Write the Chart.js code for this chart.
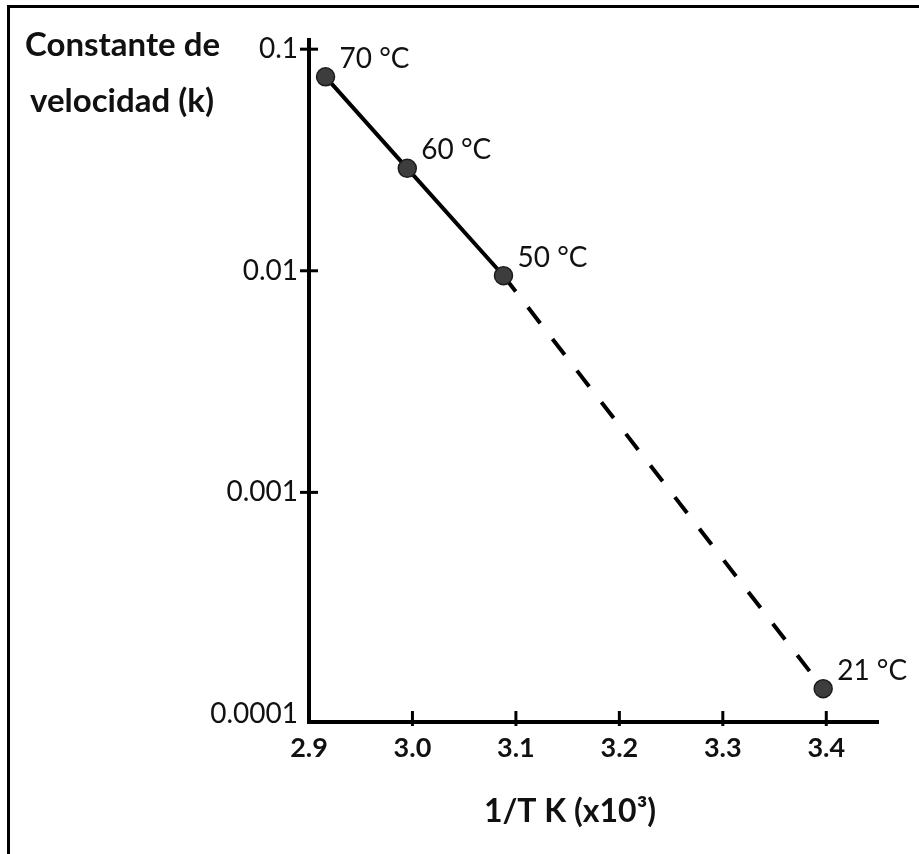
<!DOCTYPE html>
<html>
<head>
<meta charset="utf-8">
<script src="https://cdn.jsdelivr.net/npm/chart.js@4"></script>
<style>
  html, body { margin: 0; padding: 0; background: #fff; }
</style>
</head>
<body>
<canvas id="chart" width="919" height="854"></canvas>
<script>
// values
const temperatures = ['70 °C', '60 °C', '50 °C', '21 °C'];
const inverseT = [2.916, 2.995, 3.088, 3.397];
const rateK = [0.075, 0.029, 0.0095, 0.00013];
const xTicks = [2.9, 3.0, 3.1, 3.2, 3.3, 3.4];
const yTicks = [0.1, 0.01, 0.001, 0.0001];

const FONT = 'Lato, "Open Sans", sans-serif';

// frame, titles, tick marks and point labels
const decorations = {
  id: 'decorations',
  beforeDraw(chart) {
    const ctx = chart.ctx;
    ctx.save();
    ctx.fillStyle = '#fff';
    ctx.fillRect(0, 0, chart.width, chart.height);
    ctx.strokeStyle = '#000';
    ctx.lineWidth = 3;
    ctx.beginPath();
    ctx.moveTo(8.5, chart.height);
    ctx.lineTo(8.5, 6.5);
    ctx.lineTo(chart.width, 6.5);
    ctx.stroke();
    ctx.restore();
  },
  afterDraw(chart) {
    const ctx = chart.ctx;
    const xs = chart.scales.x;
    const ys = chart.scales.y;
    const area = chart.chartArea;
    ctx.save();
    ctx.strokeStyle = '#000';
    ctx.lineWidth = 3;
    xTicks.slice(1).forEach(v => {
      const px = xs.getPixelForValue(v);
      ctx.beginPath();
      ctx.moveTo(px, area.bottom - 11);
      ctx.lineTo(px, area.bottom + 4);
      ctx.stroke();
    });
    yTicks.slice(0, 3).forEach(v => {
      const py = ys.getPixelForValue(v);
      ctx.beginPath();
      ctx.moveTo(area.left - 9, py);
      ctx.lineTo(area.left + 9, py);
      ctx.stroke();
    });

    ctx.fillStyle = '#111';
    ctx.textBaseline = 'middle';
    ctx.textAlign = 'left';
    ctx.font = '28px ' + FONT;
    const meta = chart.getDatasetMeta(0);
    meta.data.forEach((pt, i) => {
      ctx.fillText(temperatures[i], pt.x + 14, pt.y - 18);
    });

    ctx.font = 'bold 33px ' + FONT;
    ctx.fillText('Constante de', 25, 45);
    ctx.fillText('velocidad (k)', 30, 101);
    ctx.font = 'bold 32px ' + FONT;
    ctx.textAlign = 'center';
    ctx.fillText('1/T K (x10³)', 570, 812);
    ctx.restore();
  }
};

new Chart(document.getElementById('chart'), {
  type: 'line',
  data: {
    datasets: [{
      data: inverseT.map((x, i) => ({ x: x, y: rateK[i] })),
      borderColor: '#000',
      borderWidth: 4,
      pointRadius: 9,
      pointBackgroundColor: '#3d3d3d',
      pointBorderColor: '#1c1c1c',
      pointBorderWidth: 1.5,
      tension: 0,
      clip: false,
      segment: {
        borderDash: ctx => ctx.p0DataIndex >= 2 ? [20, 20] : undefined
      }
    }]
  },
  options: {
    responsive: false,
    animation: false,
    layout: { padding: { top: 40, right: 41, left: 0, bottom: 0 } },
    plugins: { legend: { display: false }, tooltip: { enabled: false } },
    scales: {
      x: {
        type: 'linear',
        min: 2.9,
        max: 3.45,
        afterBuildTicks: s => { s.ticks = xTicks.map(v => ({ value: v })); },
        afterFit: s => { s.height = 132; },
        ticks: {
          callback: v => Number(v).toFixed(1),
          font: { family: FONT, size: 27, weight: 'bold' },
          color: '#111',
          padding: 10
        },
        grid: { drawOnChartArea: false, drawTicks: false },
        border: { color: '#000', width: 4 }
      },
      y: {
        type: 'logarithmic',
        min: 0.000092,
        max: 0.11,
        afterBuildTicks: s => { s.ticks = yTicks.map(v => ({ value: v })); },
        afterFit: s => { s.width = 309; },
        ticks: {
          callback: v => String(v),
          font: { family: FONT, size: 28 },
          color: '#111',
          padding: 11
        },
        grid: { drawOnChartArea: false, drawTicks: false },
        border: { color: '#000', width: 4 }
      }
    }
  },
  plugins: [decorations]
});
</script>
</body>
</html>
